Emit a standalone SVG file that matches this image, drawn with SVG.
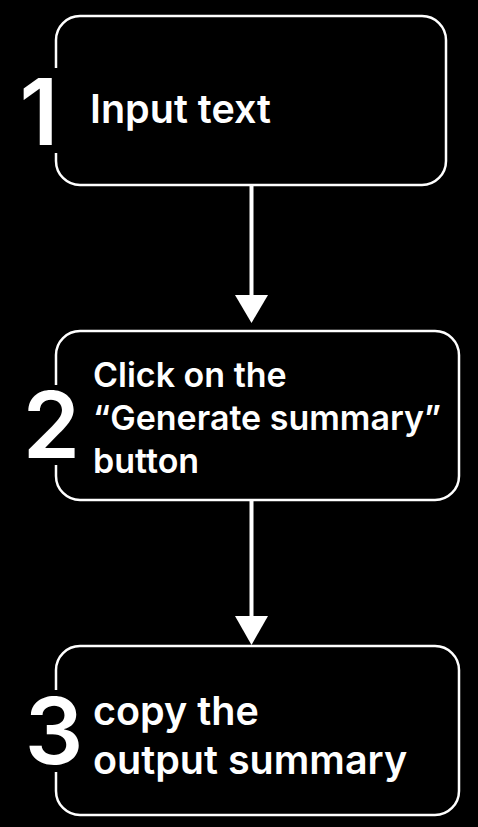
<svg xmlns="http://www.w3.org/2000/svg" width="478" height="827" viewBox="0 0 478 827">
<defs>
<style>
.box{fill:none;stroke:#fff;stroke-width:2.5}
.lbl{fill:#fff;font-family:Inter,"Liberation Sans",sans-serif;font-size:34px;font-weight:600}
.big{font-size:39.5px}
.num{fill:#fff;font-family:Inter,"Liberation Sans",sans-serif;font-size:92px;font-weight:600;text-anchor:middle}
.conn{stroke:#fff;stroke-width:4;fill:none}
.head{fill:#fff}
</style>
</defs>
<rect width="478" height="827" fill="#000"/>
<g id="connectors">
<line class="conn" x1="251.5" y1="185" x2="251.5" y2="297"/>
<polygon class="head" points="235,295 268,295 251.5,323"/>
<line class="conn" x1="251.5" y1="500" x2="251.5" y2="618"/>
<polygon class="head" points="235,616 268,616 251.5,645"/>
</g>
<g id="node1">
<path class="box" d="M56,153 V161 A24,24 0 0 0 80,185 H422 A24,24 0 0 0 446,161 V40 A24,24 0 0 0 422,16 H80 A24,24 0 0 0 56,40 V68"/>
<text class="num" x="39" y="145">1</text>
<text class="lbl big" x="90" y="123">Input text</text>
</g>
<g id="node2">
<path class="box" d="M56,465 V476 A24,24 0 0 0 80,500 H435 A24,24 0 0 0 459,476 V355 A24,24 0 0 0 435,331 H80 A24,24 0 0 0 56,355 V385"/>
<text class="num" x="51.5" y="458">2</text>
<text class="lbl" x="93" y="387">Click on the</text>
<text class="lbl" x="93" y="430">“Generate summary”</text>
<text class="lbl" x="93" y="473">button</text>
</g>
<g id="node3">
<path class="box" d="M56,772 V791 A24,24 0 0 0 80,815 H435 A24,24 0 0 0 459,791 V670 A24,24 0 0 0 435,646 H80 A24,24 0 0 0 56,670 V690"/>
<text class="num" x="54" y="764">3</text>
<text class="lbl big" x="93" y="725">copy the</text>
<text class="lbl big" x="93" y="774">output summary</text>
</g>
</svg>
